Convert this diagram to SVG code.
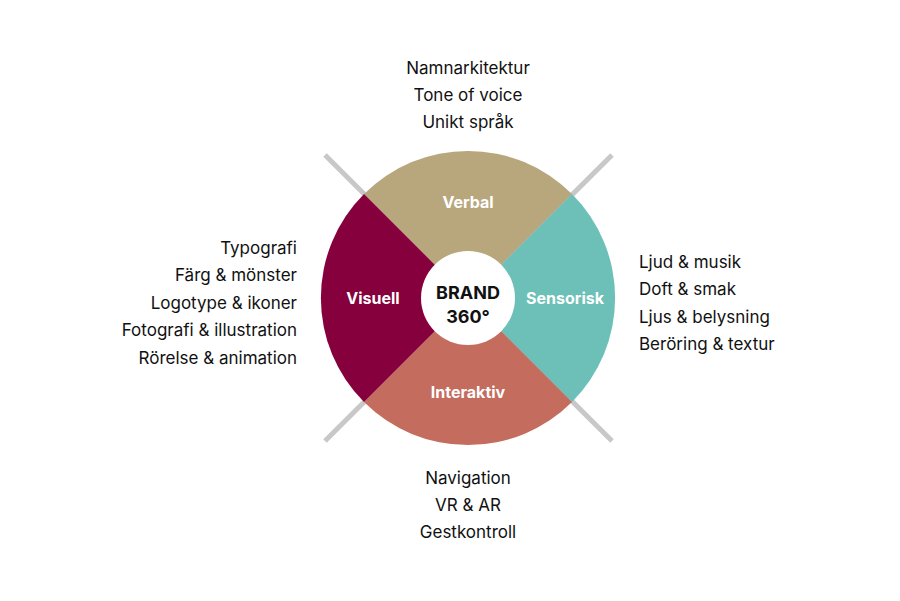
<svg xmlns="http://www.w3.org/2000/svg" width="900" height="601" viewBox="0 0 900 601">
<style>
.t{font-family:Inter,"Open Sans",sans-serif;font-size:17px;fill:#111}
.w{font-family:Inter,"Open Sans",sans-serif;font-size:16px;font-weight:bold;fill:#fff;text-anchor:middle}
.c{font-family:Inter,"Open Sans",sans-serif;font-size:18px;font-weight:bold;fill:#111;text-anchor:middle}
</style>
<rect width="900" height="601" fill="#fff"/>
<g id="connectors" stroke="#c8c8c8" stroke-width="5">
<line x1="325" y1="155" x2="612" y2="441"/>
<line x1="612" y1="155" x2="325" y2="441"/>
</g>
<g id="verbal"><path d="M468,298 L364,194 A147,147 0 0 1 572,194 Z" fill="#b8a77d"/><text class="w" x="468" y="208">Verbal</text></g>
<g id="sensorisk"><path d="M468,298 L572,194 A147,147 0 0 1 572,402 Z" fill="#6cc0b8"/><text class="w" x="565" y="304">Sensorisk</text></g>
<g id="interaktiv"><path d="M468,298 L572,402 A147,147 0 0 1 364,402 Z" fill="#c46c5e"/><text class="w" x="468" y="398">Interaktiv</text></g>
<g id="visuell"><path d="M468,298 L364,402 A147,147 0 0 1 364,194 Z" fill="#85003d"/><text class="w" x="373" y="304">Visuell</text></g>
<g id="center"><circle cx="468" cy="298" r="47" fill="#fff"/><text class="c" x="468" y="299">BRAND</text><text class="c" x="468" y="323">360°</text></g>
<g id="top-list" text-anchor="middle"><text class="t" x="468" y="74">Namnarkitektur</text><text class="t" x="468" y="101">Tone of voice</text><text class="t" x="468" y="128">Unikt språk</text></g>
<g id="left-list" text-anchor="end"><text class="t" x="297" y="254">Typografi</text><text class="t" x="297" y="281">Färg &amp; mönster</text><text class="t" x="297" y="309">Logotype &amp; ikoner</text><text class="t" x="297" y="336">Fotografi &amp; illustration</text><text class="t" x="297" y="364">Rörelse &amp; animation</text></g>
<g id="right-list"><text class="t" x="639" y="268">Ljud &amp; musik</text><text class="t" x="639" y="295">Doft &amp; smak</text><text class="t" x="639" y="323">Ljus &amp; belysning</text><text class="t" x="639" y="350">Beröring &amp; textur</text></g>
<g id="bottom-list" text-anchor="middle"><text class="t" x="468" y="484">Navigation</text><text class="t" x="468" y="511">VR &amp; AR</text><text class="t" x="468" y="538">Gestkontroll</text></g>
</svg>
